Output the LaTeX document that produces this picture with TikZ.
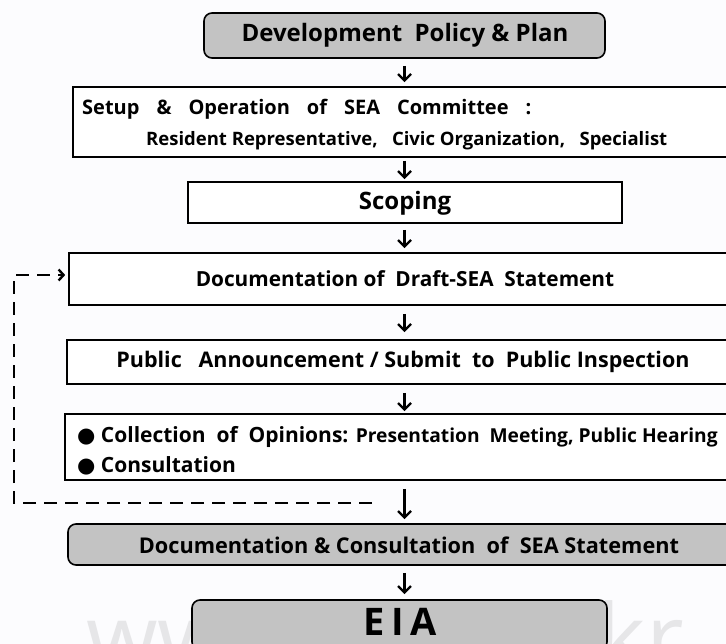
\documentclass[tikz,border=0pt]{standalone}
\usepackage{fontspec}
\setmainfont{Open Sans}
\newfontfamily\symfont{DejaVu Sans}
\usetikzlibrary{arrows.meta,calc}
\definecolor{boxgray}{HTML}{C3C3C3}
\definecolor{bgcol}{HTML}{FCFCFE}
\definecolor{wmark}{HTML}{E6E6E8}
\tikzset{
  plainbox/.style={draw=black, line width=1.6pt, fill=white, minimum height=0pt, inner sep=0pt, rectangle},
  graybox/.style={draw=black, line width=1.6pt, fill=boxgray, rounded corners=8pt, inner sep=0pt, rectangle},
  lbl/.style={inner sep=0pt, font=\bfseries},
  flowarr/.style={line width=2.6pt, -{Straight Barb[length=6.5pt,width=13pt,line width=2.4pt]}},
  fbline/.style={line width=2.8pt, dash pattern=on 13pt off 8pt, -{Straight Barb[length=5pt,width=11pt,line width=2.4pt]}},
}
\newcommand{\boxat}[6]{% name, style, left, top, right, bottom
  \node[#2, minimum width={#5-#3}, minimum height={#6-#4}] (#1) at ({(#3+#5)/2},{(#4+#6)/2}) {};}
\newcommand{\gap}{\hspace{17pt}}
\begin{document}
\begin{tikzpicture}[x=1pt,y=-1pt]
\useasboundingbox (0,0) rectangle (726,644);
\clip (0,0) rectangle (726,644);
\fill[bgcol] (0,0) rectangle (726,644);

% watermark
\node[inner sep=0pt, anchor=base, text=wmark, font=\fontsize{92}{92}\selectfont] (wm) at (385,670) {www.kei.go.kr};

% boxes
\boxat{dev}{graybox}{204}{13}{605}{58}
\boxat{setup}{plainbox}{73}{87}{760}{157}
\boxat{scop}{plainbox}{188}{182}{622}{223}
\boxat{draft}{plainbox}{69}{253}{760}{305}
\boxat{pub}{plainbox}{67}{340}{760}{384}
\boxat{coll}{plainbox}{65}{414}{760}{480}
\boxat{docs}{graybox}{68}{524}{760}{565}
\boxat{eia}{graybox}{192}{600}{607}{650}

% texts
\node[lbl, font=\bfseries\fontsize{24}{28}\selectfont] (tdev) at (405,35) {Development\ \ Policy \& Plan};
\node[lbl, anchor=west, font=\bfseries\fontsize{20}{24}\selectfont] (tsetup1) at (82,109) {Setup\gap\&\gap Operation\gap of\gap SEA\gap Committee\gap :};
\node[lbl, anchor=west, font=\bfseries\fontsize{18.5}{22}\selectfont] (tsetup2) at (146,141) {Resident Representative,\ \ \ Civic Organization,\ \ \ Specialist};
\node[lbl, font=\bfseries\fontsize{24}{28}\selectfont] (tscop) at (405,203) {Scoping};
\node[lbl, font=\bfseries\fontsize{20.8}{24}\selectfont] (tdraft) at (405,279) {Documentation of\ \ Draft-SEA\ \ Statement};
\node[lbl, font=\bfseries\fontsize{21.5}{25}\selectfont] (tpub) at (403,362) {Public\ \ \ Announcement / Submit\ \ to\ \ Public Inspection};
\node[lbl, anchor=west, font=\bfseries\fontsize{21}{24}\selectfont] (tcoll1) at (77,437) {{\symfont ●} Collection\ \ of\ \ Opinions: {\fontsize{19.2}{22}\selectfont Presentation\ \ Meeting, Public Hearing}};
\node[lbl, anchor=west, font=\bfseries\fontsize{21}{24}\selectfont] (tcoll2) at (77,466) {{\symfont ●} Consultation};
\node[lbl, font=\bfseries\fontsize{21.7}{25}\selectfont] (tdocs) at (409,545) {Documentation \& Consultation\ \ of\ \ SEA Statement};
\node[lbl, font=\bfseries\fontsize{38}{40}\selectfont] (teia) at (400,622) {E\,I\,A};

% flow arrows
\draw[flowarr, shorten <=7pt, shorten >=4pt] (dev.south) -- (dev.south |- setup.north);
\draw[flowarr, shorten <=3pt, shorten >=2pt] (dev.south |- setup.south) -- (dev.south |- scop.north);
\draw[flowarr, shorten <=6pt, shorten >=4pt] (dev.south |- scop.south) -- (dev.south |- draft.north);
\draw[flowarr, shorten <=8pt, shorten >=7pt] (dev.south |- draft.south) -- (dev.south |- pub.north);
\draw[flowarr, shorten <=8pt, shorten >=2pt] (dev.south |- pub.south) -- (dev.south |- coll.north);
\draw[flowarr, shorten <=8pt, shorten >=4pt] (dev.south |- coll.south) -- (dev.south |- docs.north);
\draw[flowarr, shorten <=7pt, shorten >=5pt] (dev.south |- docs.south) -- (dev.south |- eia.north);

% feedback dashed loop
\coordinate (fbstart) at (372,503);
\coordinate (fbcorner) at (14,275);
\draw[fbline, shorten >=3pt] (fbstart) -| (fbcorner) -- (draft.west |- fbcorner);
\end{tikzpicture}
\end{document}
